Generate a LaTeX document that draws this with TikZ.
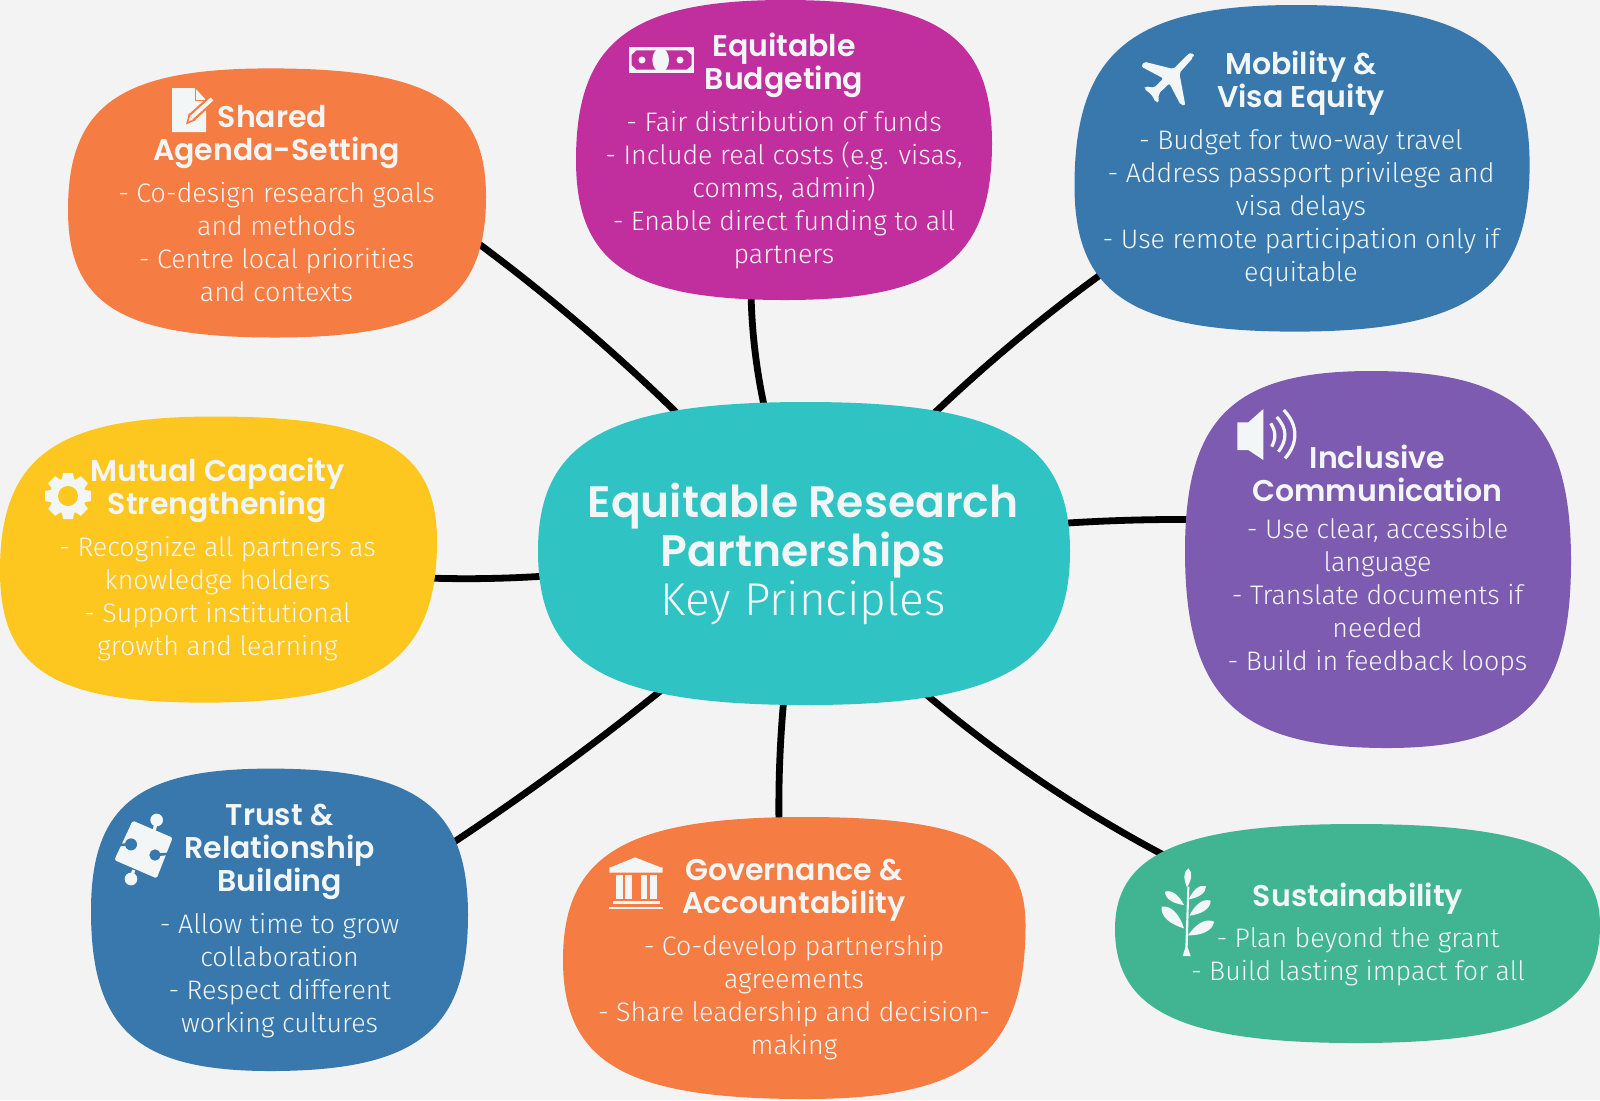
\documentclass[tikz,border=0pt]{standalone}
\usepackage{fontspec}
\setmainfont{Fira Sans}[UprightFont=* Light,BoldFont=* SemiBold]
\newfontfamily\ttlfont{Poppins}[UprightFont=* SemiBold]
\usetikzlibrary{calc}
\pgfdeclarelayer{paper}\pgfdeclarelayer{linklayer}\pgfdeclarelayer{blobs}
\pgfsetlayers{paper,linklayer,blobs,main}
\definecolor{bgc}{HTML}{F3F3F3}
\definecolor{ink}{HTML}{F3F6F6}
\definecolor{corange}{HTML}{F57C42}
\definecolor{cmag}{HTML}{C12F9E}
\definecolor{cblue}{HTML}{3878AD}
\definecolor{cpurple}{HTML}{7D5BB0}
\definecolor{cyellow}{HTML}{FDC71F}
\definecolor{cteal}{HTML}{30C3C3}
\definecolor{cgreen}{HTML}{41B592}
\tikzset{
 blobnode/.style={rectangle,inner sep=0pt,outer sep=0pt,draw=none},
 link/.style={draw=black,line width=3.4pt},
 card/.style={text=ink,align=center,inner sep=0pt,font=\fontsize{13.4}{16.5}\selectfont},
 hubcard/.style={text=ink,align=center,inner sep=0pt,font=\fontsize{23}{24.5}\selectfont},
}
\newcommand\ttl[1]{{\ttlfont\fontsize{15}{16.5}\selectfont #1}}
\newcommand\hubttl[1]{{\ttlfont\fontsize{22}{24.5}\selectfont #1}}
\def\parseA#1/#2/#3/#4\relax{\def\bL{#1}\def\bT{#2}\def\bR{#3}\def\bB{#4}}
\def\parseB#1/#2/#3/#4\relax{\def\tX{#1}\def\rY{#2}\def\bX{#3}\def\lY{#4}}
\newcommand\blobshape[5]{%
 \parseA#3\relax\parseB#4\relax\def\kk{#5}%
 \pgfmathsetmacro\bw{(\bR-\bL)*0.5}\pgfmathsetmacro\bh{(\bB-\bT)*0.5}%
 \node[blobnode,minimum width=\bw pt,minimum height=\bh pt] (#1) at ({(\bL+\bR)/2},{(\bT+\bB)/2}) {};
 \begin{pgfonlayer}{blobs}
 \fill[#2] (\tX,\bT)
  .. controls ({\tX+\kk*(\bR-\tX)},\bT) and (\bR,{\rY-\kk*(\rY-\bT)}) .. (\bR,\rY)
  .. controls (\bR,{\rY+\kk*(\bB-\rY)}) and ({\bX+\kk*(\bR-\bX)},\bB) .. (\bX,\bB)
  .. controls ({\bX-\kk*(\bX-\bL)},\bB) and (\bL,{\lY+\kk*(\bB-\lY)}) .. (\bL,\lY)
  .. controls (\bL,{\lY-\kk*(\lY-\bT)}) and ({\tX-\kk*(\tX-\bL)},\bT) .. (\tX,\bT) -- cycle;
 \end{pgfonlayer}}
\newcommand\leafshape[2]{\fill[ink] (#1) .. controls ($(#1)!.45!28:(#2)$) and ($(#1)!.85!18:(#2)$) .. (#2)
  .. controls ($(#1)!.85!-18:(#2)$) and ($(#1)!.45!-28:(#2)$) .. (#1) -- cycle;}
% connector: blob centre, port, bend point, port, hub centre
\newcommand\linkup[4]{\draw[link] (#1.center) -- (#2) .. controls ($(#2)!.667!(#3)$) and ($(#4)!.667!(#3)$) .. (#4) -- (hub.center);}
\begin{document}
\begin{tikzpicture}[x=0.5pt,y=-0.5pt]
\begin{pgfonlayer}{paper}
\fill[bgc] (0,0) rectangle (1600,1100);
\end{pgfonlayer}
\useasboundingbox (0,0) rectangle (1600,1100);

\blobshape{hub}{cteal}{538/402/1070/705}{806/551/806/551}{.74}
\blobshape{shared}{corange}{68/68.4/486/337.5}{270/197/275/210}{.74}
\blobshape{budget}{cmag}{576/0/992/300}{785/143/785/160}{.74}
\blobshape{mobility}{cblue}{1074.5/5/1529.6/331.6}{1295/165/1295/186}{.74}
\blobshape{inclusive}{cpurple}{1185/371/1571/748}{1371/561/1387/551}{.74}
\blobshape{mutual}{cyellow}{0/416.5/437/702.6}{214/541/204/571}{.74}
\blobshape{trust}{cblue}{91/768.6/468/1071}{270/915/270/911}{.74}
\blobshape{gov}{corange}{563/817/1025.5/1099}{805/925/805/960}{.74}
\blobshape{sust}{cgreen}{1115/824/1600/1043}{1356/925/1356/929}{.72}

\begin{pgfonlayer}{linklayer}
\linkup{shared}{473,239.5}{583,320.6}{682,418}
\linkup{budget}{751,292}{752,351}{765,410}
\linkup{mobility}{1107,270}{1013,337.5}{926,421}
\linkup{inclusive}{1195,519.5}{1127,519}{1060,523.5}
\linkup{mutual}{427,578}{486,580}{546,576}
\linkup{trust}{448,846}{560,772}{664,688}
\linkup{gov}{779,825}{778,761}{784,697}
\linkup{sust}{1175,861}{1038,790}{921,690}
\end{pgfonlayer}

\node[hubcard] (hubtext) at (803,554) {\hubttl{Equitable Research}\\\hubttl{Partnerships}\\Key Principles};
\node[card] (sharedtext) at (276.5,204) {\ttl{Shared}\hspace*{4pt}\\\ttl{Agenda-Setting}\\[4.5pt]- Co-design research goals\\and methods\\- Centre local priorities\\and contexts};
\node[card] (budgettext) at (784,151) {\ttl{Equitable}\\\ttl{Budgeting}\\[4.5pt]- Fair distribution of funds\\- Include real costs (e.g. visas,\\comms, admin)\\- Enable direct funding to all\\partners};
\node[card] (mobilitytext) at (1301,169) {\ttl{Mobility \&}\\\ttl{Visa Equity}\\[4.5pt]- Budget for two-way travel\\- Address passport privilege and\\visa delays\\- Use remote participation only if\\equitable};
\node[card] (inclusivetext) at (1377.5,560) {\ttl{Inclusive}\\\ttl{Communication}\\[2pt]- Use clear, accessible\\language\\- Translate documents if\\needed\\- Build in feedback loops};
\node[card] (mutualtext) at (217.5,559) {\ttl{Mutual Capacity}\\\ttl{Strengthening}\\[4.5pt]- Recognize all partners as\\knowledge holders\\- Support institutional\\growth and learning};
\node[card] (trusttext) at (279.6,921) {\ttl{Trust \&}\\\ttl{Relationship}\\\ttl{Building}\\[4.5pt]- Allow time to grow\\collaboration\\- Respect different\\working cultures};
\node[card] (govtext) at (794,960) {\ttl{Governance \&}\\\ttl{Accountability}\\[4.5pt]- Co-develop partnership\\agreements\\- Share leadership and decision-\\making};
\node[card] (susttext) at (1358,934.7) {\ttl{Sustainability}\\[4pt]- Plan beyond the grant\\- Build lasting impact for all};

% document and pencil
\fill[ink] (172,88) -- (195,88) -- (206,100) -- (206,132) -- (172,132) -- cycle;
\draw[corange,line width=.5pt] (195,88) -- (195,100) -- (206,100);
\draw[corange,line width=4.2pt] (191,118) -- (212,99);
\fill[corange] (186,124.5) -- (189,113) -- (196,120) -- cycle;
\draw[ink,line width=2pt] (191.5,117.5) -- (212,99);
\fill[ink] (188.5,121.5) -- (190,116.5) -- (193,119.5) -- cycle;

% banknote
\begin{scope}[shift={(620,40)},x=0.1667pt,y=-0.1667pt]
\fill[ink] (27,22) rectangle (222,98);
\fill[cmag] (35,45) -- (50,31) -- (200,31) -- (215,45) -- (215,75) -- (200,89) -- (50,89) -- (35,75) -- cycle;
\fill[ink] (122,60) ellipse [x radius=25,y radius=36];
\fill[ink] (66,60) circle [radius=10.5];
\fill[ink] (180,60) circle [radius=10.5];
\end{scope}

% plane
\begin{scope}[shift={(1130,45)},x=0.1667pt,y=-0.1667pt]
\fill[ink,rounded corners=1pt] (189,38) -- (148,84) -- (166,181) -- (152,180) -- (118,115) -- (86,146) -- (86,172) -- (77,172) -- (65,149) -- (42,131) -- (46,124) -- (73,128) -- (100,100) -- (34,65) -- (42,50) -- (130,72) -- (172,30) .. controls (182,22) and (194,28) .. (189,38) -- cycle;
\end{scope}

% loudspeaker
\begin{scope}[shift={(1230,405)},x=0.1667pt,y=-0.1667pt]
\fill[ink] (22,52) -- (55,52) -- (100,12) -- (100,165) -- (55,135) -- (22,135) -- cycle;
\draw[ink,line width=1.6pt] (122,55) .. controls (138,78) and (138,102) .. (125,125);
\draw[ink,line width=1.6pt] (140,36) .. controls (172,70) and (172,105) .. (145,140);
\draw[ink,line width=1.6pt] (161,15) .. controls (205,60) and (205,115) .. (165,160);
\end{scope}

% gear
\foreach \a in {0,45,...,315}{\fill[ink,rotate around={\a:(68,496)}] (63,473) -- (73,473) -- (75,484) -- (61,484) -- cycle;}
\fill[ink] (68,496) circle [radius=18];
\fill[cyellow] (68,496) circle [radius=10];

% puzzle piece
\begin{scope}[shift={(105,805)},x=0.1667pt,y=-0.1667pt]
\fill[ink,rounded corners=.8pt] (83,47) -- (203,98) -- (155,220) -- (28,165) -- cycle;
\fill[ink] (155,45) circle [radius=19];
\draw[ink,line width=1.6pt] (155,45) -- (148,75);
\fill[ink] (78,222) circle [radius=19];
\draw[ink,line width=1.6pt] (78,222) -- (86,195);
\fill[cblue] (150,150) circle [radius=17];
\draw[cblue,line width=1.3pt] (150,150) -- (195,146);
\fill[cblue] (78,118) circle [radius=18];
\draw[cblue,line width=1.3pt] (78,118) -- (40,120);
\end{scope}

% temple
\begin{scope}[shift={(600,850)},x=0.1667pt,y=-0.1667pt]
\fill[ink] (105,22) -- (182,52) -- (188,52) -- (188,68) -- (28,68) -- (28,52) -- (32,52) -- cycle;
\foreach \cx in {48,76,122,150}{\fill[ink] (\cx,75) rectangle ++(20,73);}
\fill[ink] (38,152) rectangle (180,161);
\fill[ink] (28,170) rectangle (188,178);
\end{scope}

% sprig
\begin{scope}[shift={(1150,860)},x=0.1667pt,y=-0.1667pt]
\fill[ink] (112,80) -- (118,80) -- (113,262) -- (122,288) -- (98,288) -- (106,262) -- cycle;
\coordinate (lfa) at (111,82);\coordinate (lfb) at (115,25);\leafshape{lfa}{lfb}
\coordinate (lfa) at (102,135);\coordinate (lfb) at (45,95);\leafshape{lfa}{lfb}
\coordinate (lfa) at (116,118);\coordinate (lfb) at (168,78);\leafshape{lfa}{lfb}
\coordinate (lfa) at (102,205);\coordinate (lfb) at (35,140);\leafshape{lfa}{lfb}
\coordinate (lfa) at (118,167);\coordinate (lfb) at (182,122);\leafshape{lfa}{lfb}
\coordinate (lfa) at (114,226);\coordinate (lfb) at (192,185);\leafshape{lfa}{lfb}
\end{scope}
\end{tikzpicture}
\end{document}
